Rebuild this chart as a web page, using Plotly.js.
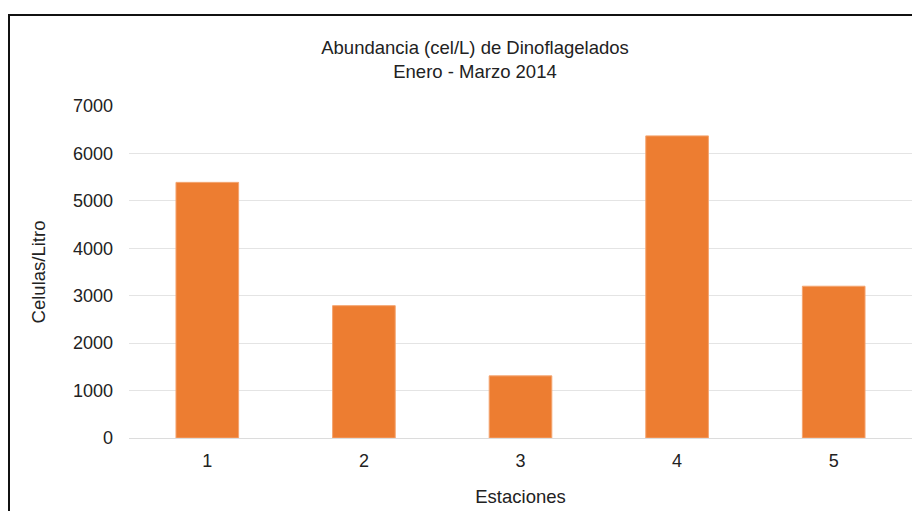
<!DOCTYPE html>
<html>
<head>
<meta charset="utf-8">
<script src="https://cdn.plot.ly/plotly-3.0.1.min.js"></script>
<style>html,body{margin:0;padding:0;background:#fff;}#chart{width:912px;height:511px;}</style>
</head>
<body>
<div id="chart"></div>
<script>
const estaciones = ['1', '2', '3', '4', '5'];
const celulasLitro = [5390, 2790, 1310, 6370, 3200];
const titulo = 'Abundancia (cel/L) de Dinoflagelados<br>Enero - Marzo 2014';
const tituloX = 'Estaciones';
const tituloY = 'Celulas/Litro';

const W = 912, H = 511, L = 129, R = 0, T = 106, B = 73;
const pw = W - L - R, ph = H - T - B;
const px = v => (v - L) / pw;
const py = v => (H - B - v) / ph;

const trace = {
  type: 'bar',
  x: estaciones,
  y: celulasLitro,
  marker: {color: '#ED7D31', line: {color: '#F4A571', width: 1}},
  width: 0.4,
  hoverinfo: 'x+y'
};

const layout = {
  width: W, height: H,
  margin: {l: L, r: R, t: T, b: B, pad: 0},
  paper_bgcolor: '#fff', plot_bgcolor: '#fff',
  font: {family: 'Liberation Sans, Arial, sans-serif', color: '#222'},
  showlegend: false,
  title: {text: titulo, font: {size: 18.5, color: '#222'}, x: 475 / W, xref: 'container', xanchor: 'center', y: 1 - 54 / H, yref: 'container', yanchor: 'middle'},
  xaxis: {
    type: 'category', showgrid: false, zeroline: false, showline: false, ticks: '',
    tickfont: {size: 18, color: '#222'}, ticklabelstandoff: 10,
    title: {text: tituloX, font: {size: 18.5, color: '#222'}, standoff: 20}
  },
  yaxis: {
    range: [0, 7000], dtick: 1000, tick0: 0, showgrid: true, gridcolor: '#e4e4e4', gridwidth: 1,
    zeroline: true, zerolinecolor: '#dcdcdc', zerolinewidth: 1, showline: false, ticks: '',
    tickfont: {size: 18, color: '#222'}, ticklabelstandoff: 15,
    title: {text: tituloY, font: {size: 18.5, color: '#222'}, standoff: 22}
  },
  shapes: [{
    type: 'path', xref: 'paper', yref: 'paper',
    path: `M ${px(9)},${py(520)} L ${px(9)},${py(15)} L ${px(920)},${py(15)}`,
    line: {color: '#111', width: 2}
  }]
};

Plotly.newPlot('chart', [trace], layout, {displayModeBar: false, staticPlot: true});
</script>
</body>
</html>
